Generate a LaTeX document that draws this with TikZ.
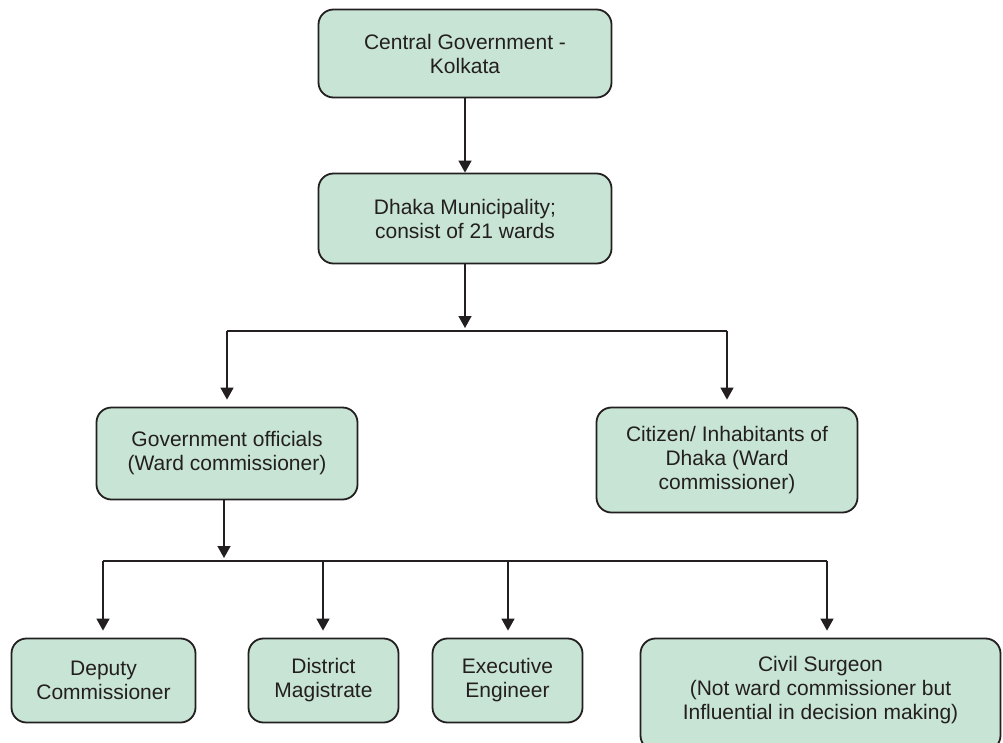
\documentclass[tikz,border=0pt]{standalone}
\usepackage{fontspec}
\setmainfont{Liberation Sans}
\usetikzlibrary{arrows.meta}
\definecolor{boxfill}{HTML}{C8E4D4}
\definecolor{inkline}{HTML}{231F20}

\tikzset{
  orgbox/.style={draw=inkline, line width=1.8pt, fill=boxfill, rounded corners=15pt,
    align=center, font=\fontsize{21}{24}\selectfont, text=inkline, inner sep=0pt},
  link/.style={draw=inkline, line width=1.5pt},
  arr/.style={link, -{Triangle[width=13pt,length=12pt]}},
}

\begin{document}
\begin{tikzpicture}[x=1pt, y=-1pt]
\useasboundingbox (0,0) rectangle (1003,742);
\clip (0,0) rectangle (1003,742);

% hierarchy boxes
\node[orgbox, minimum width=293pt, minimum height=88pt] (central) at (465,53.5)
  {Central Government -\\Kolkata};
\node[orgbox, minimum width=293pt, minimum height=90pt] (dhaka) at (465,218.5)
  {Dhaka Municipality;\\consist of 21 wards};
\node[orgbox, minimum width=261pt, minimum height=92pt] (gov) at (227,453.5)
  {Government officials\\(Ward commissioner)};
\node[orgbox, minimum width=261pt, minimum height=105pt] (citizen) at (727,460)
  {Citizen/ Inhabitants of\\Dhaka (Ward\\commissioner)};
\node[orgbox, minimum width=184pt, minimum height=84pt] (deputy) at (103.5,680.5)
  {Deputy\\Commissioner};
\node[orgbox, minimum width=150pt, minimum height=84pt] (magistrate) at (323.5,680.5)
  {District\\Magistrate};
\node[orgbox, minimum width=150pt, minimum height=84pt] (engineer) at (507.5,680.5)
  {Executive\\Engineer};
% this box runs past the lower edge; the strut keeps its text block raised
\node[orgbox, minimum width=360pt, minimum height=112pt] (surgeon) at (820.5,694.5)
  {Civil Surgeon\\(Not ward commissioner but\\Influential in decision making)\rule[-14pt]{0pt}{14pt}};

% junction points of the branching lines
\coordinate (j1) at (465,331);
\coordinate (j1l) at (227,331);
\coordinate (j1r) at (727,331);
\coordinate (j2) at (224,561);
\coordinate (j2l) at (103,561);
\coordinate (j2m) at (323,561);
\coordinate (j2e) at (508,561);
\coordinate (j2r) at (827,561);

% central -> municipality
\draw[arr] (central.south) -- (dhaka.north);

% municipality -> two groups
\draw[arr, shorten >=3pt] (dhaka.south) -- (j1);
\draw[link] (j1l) -- (j1r);
\draw[arr, shorten >=7pt] (j1l) -- (gov.north);
\draw[arr, shorten >=7pt] (j1r) -- (citizen.north);

% officials -> four posts
\draw[arr, shorten >=3pt] (gov.south -| j2) -- (j2);
\draw[link] (j2l) -- (j2r);
\draw[arr, shorten >=7pt] (j2l) -- (j2l |- deputy.north);
\draw[arr, shorten >=7pt] (j2m) -- (j2m |- magistrate.north);
\draw[arr, shorten >=7pt] (j2e) -- (j2e |- engineer.north);
\draw[arr, shorten >=7pt] (j2r) -- (j2r |- surgeon.north);
\end{tikzpicture}
\end{document}
